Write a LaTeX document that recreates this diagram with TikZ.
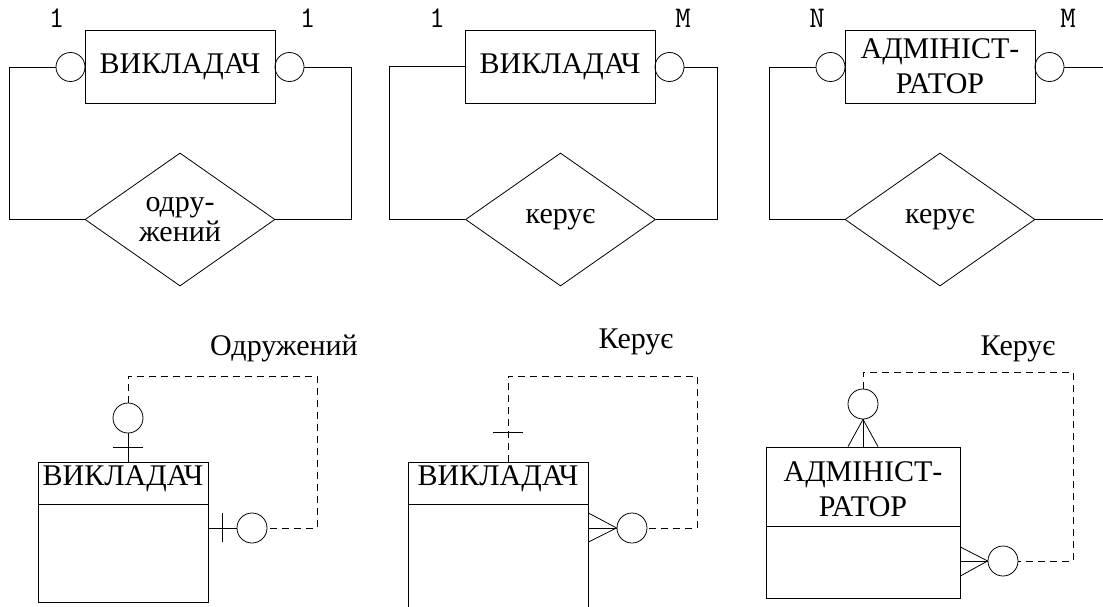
\documentclass[tikz,border=0pt]{standalone}
\usepackage{fontspec}
\setmainfont{Liberation Serif}
\usetikzlibrary{shapes.geometric,calc}
\tikzset{
  ln/.style={draw=black,line width=0.8pt},
  ent/.style={ln,rectangle,inner sep=0pt,minimum width=190pt,minimum height=73pt,align=center,font=\fontsize{30}{35}\selectfont},
  ring/.style={ln,circle,inner sep=0pt,minimum size=29pt},
  rel/.style={ln,diamond,inner sep=0pt,aspect=1.43,minimum width=190pt,minimum height=133pt,align=center,font=\fontsize{30}{30}\selectfont},
  card/.style={inner sep=0pt,anchor=base,font=\ttfamily\fontsize{30}{30}\selectfont},
  lbl/.style={inner sep=0pt,anchor=base,font=\fontsize{30}{30}\selectfont},
  tbl/.style={ln,rectangle,inner sep=0pt},
  dsh/.style={line width=0.8pt,dash pattern=on 7pt off 5pt},
}
\begin{document}
\begin{tikzpicture}[x=1pt,y=-1pt,line width=0.8pt]
\useasboundingbox (0,0) rectangle (1103,607);
\clip (0,0) rectangle (1103,607);
\fill[white] (0,0) rectangle (1103,607);

% ---------- top panel 1 ----------
\node[ent] (e1) at (180,66.5) {ВИКЛАДАЧ};
\node[ring] (c1l) at (70.5,67) {};
\node[ring] (c1r) at (289.5,67) {};
\node[rel] (r1) at (180,219.5) {одру-\\жений};
\node[card] (n1l) at (56.5,28) {1};
\node[card] (n1r) at (307.5,28) {1};
\coordinate (k1a) at (9,219.5);
\coordinate (k1b) at (351,219.5);
\draw (c1l.west) -| (k1a) -- (r1.west);
\draw (c1r.east) -| (k1b) -- (r1.east);

% ---------- top panel 2 ----------
\node[ent] (e2) at (560,66.5) {ВИКЛАДАЧ};
\node[ring] (c2r) at (669.5,67) {};
\node[rel] (r2) at (560.5,219.5) {керує};
\node[card] (n2l) at (437,28) {1};
\node[card] (n2r) at (683,28) {M};
\coordinate (k2a) at (389,219.5);
\coordinate (k2b) at (717,219.5);
\draw (e2.west) -| (k2a) -- (r2.west);
\draw (c2r.east) -| (k2b) -- (r2.east);

% ---------- top panel 3 ----------
\node[ent] (e3) at (940,66.5) {АДМІНІСТ-\\РАТОР};
\node[ring] (c3l) at (830.5,67) {};
\node[ring] (c3r) at (1049.5,67) {};
\node[rel] (r3) at (940,219.5) {керує};
\node[card] (n3l) at (817,28) {N};
\node[card] (n3r) at (1068,28) {M};
\coordinate (k3a) at (769,219.5);
\coordinate (k3b) at (1110,219.5);
\draw (c3l.west) -| (k3a) -- (r3.west);
\draw (c3r.east) -| (k3b) -- (r3.east);

% ---------- bottom panel 1 ----------
\node[lbl] (l1) at (284,355) {Одружений};
\node[tbl,minimum width=170pt,minimum height=140pt] (b1) at (123,532) {};
\draw ($(b1.north west)+(0,43)$) -- ($(b1.north east)+(0,43)$);
\node[lbl] (h1) at (123,485) {ВИКЛАДАЧ};
\node[ring,minimum size=30pt] (t1) at (128,418) {};
\node[ring,minimum size=30pt] (s1) at (252,528) {};
\draw (t1.south) -- (t1.south |- b1.north);
\draw ($(t1.south)+(-15,14)$) -- ++(30,0);
\draw (s1.west) -- (s1.west -| b1.east);
\draw ($(s1.west)+(-14,-15)$) -- ++(0,29);
\coordinate (p1a) at (128,376);
\coordinate (p1b) at (317,528);
\draw[dsh] (t1.north) -- (p1a) -| (p1b) -- (s1.east);

% ---------- bottom panel 2 ----------
\node[lbl] (l2) at (636,348) {Керує};
\node[tbl,minimum width=180pt,minimum height=160pt] (b2) at (498,542) {};
\draw ($(b2.north west)+(0,43)$) -- ($(b2.north east)+(0,43)$);
\node[lbl] (h2) at (498,485) {ВИКЛАДАЧ};
\node[ring,minimum size=30pt] (s2) at (632,528) {};
\coordinate (q2) at (508,462);
\coordinate (p2a) at (508,376);
\coordinate (p2b) at (697,528);
\draw[dsh] (q2) -- (p2a) -| (p2b) -- (s2.east);
\draw (493,432) -- (523,432);
\draw (s2.west) -- ($(s2.west -| b2.east)+(0,-15)$);
\draw (s2.west) -- (s2.west -| b2.east);
\draw (s2.west) -- ($(s2.west -| b2.east)+(0,14)$);

% ---------- bottom panel 3 ----------
\node[lbl] (l3) at (1018,355) {Керує};
\node[tbl,minimum width=194pt,minimum height=151pt] (b3) at (863,522.5) {};
\draw ($(b3.north west)+(0,80)$) -- ($(b3.north east)+(0,80)$);
\node[inner sep=0pt,align=center,font=\fontsize{30}{35}\selectfont] (h3) at (863,489) {АДМІНІСТ-\\РАТОР};
\node[ring,minimum size=30pt] (t3) at (863,404) {};
\node[ring,minimum size=30pt] (s3) at (1003,561) {};
\draw (t3.south) -- ($(t3.south |- b3.north)+(-15,0)$);
\draw (t3.south) -- (t3.south |- b3.north);
\draw (t3.south) -- ($(t3.south |- b3.north)+(15,0)$);
\draw (s3.west) -- ($(s3.west -| b3.east)+(0,-14)$);
\draw (s3.west) -- (s3.west -| b3.east);
\draw (s3.west) -- ($(s3.west -| b3.east)+(0,15)$);
\coordinate (p3a) at (863,372);
\coordinate (p3b) at (1073,561);
\draw[dsh] (t3.north) -- (p3a) -| (p3b) -- (s3.east);
\end{tikzpicture}
\end{document}
